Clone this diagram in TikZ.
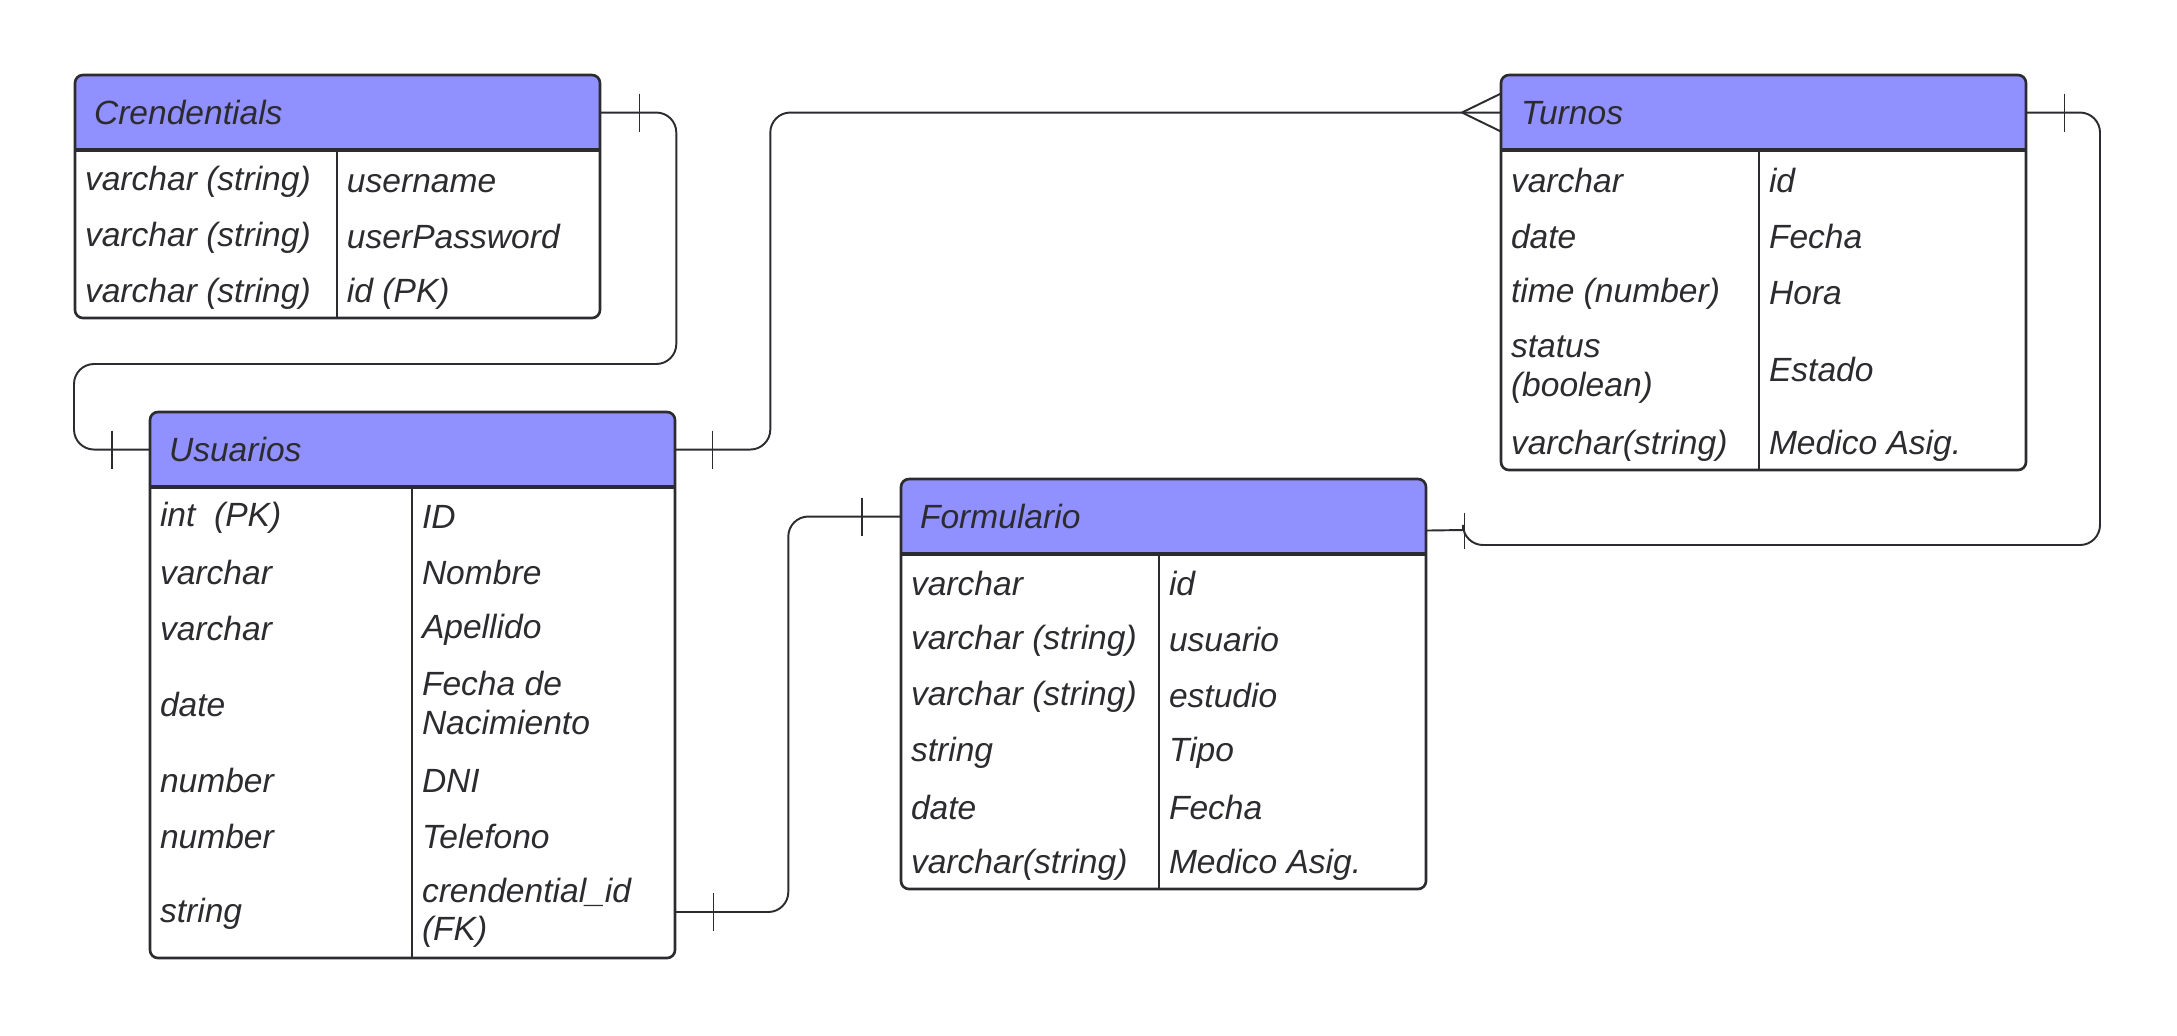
\documentclass[tikz,border=0pt]{standalone}
\usepackage{fontspec}
\setmainfont{Liberation Sans}
\usetikzlibrary{positioning,calc}
\definecolor{myviolet}{RGB}{145,144,255}
\definecolor{mygray}{RGB}{44,44,48}
\newcommand\cstrut{\rule[-0.1em]{0pt}{0.916em}}

\begin{document}
\begin{tikzpicture}[x=0.01cm,y=-0.01cm,
  every node/.style={inner sep=0pt,outer sep=0pt,text=mygray,font=\itshape\fontsize{9.55}{10.9}\selectfont},
  hdr/.style={fill=myviolet,rounded corners=0.08cm,anchor=north west,minimum width=5.25cm,minimum height=0.75cm},
  ttl/.style={anchor=west,execute at begin node=\cstrut},
  cell/.style={anchor=west,align=left,yshift=-0.025cm,execute at begin node=\cstrut,execute at end node=\cstrut},
  frame/.style={draw=mygray,line width=0.75pt,rounded corners=0.08cm},
  hline/.style={draw=mygray,line width=0.9pt},
  vline/.style={draw=mygray,line width=0.5pt},
  conn/.style={draw=mygray,line width=0.55pt,rounded corners=0.2cm},
  tick/.style={draw=mygray,line width=0.35pt}]
\useasboundingbox (0,0) rectangle (2177,1035);

% Crendentials
\node[hdr] (credh) at (75,75) {};
\fill[myviolet] (credh.west) rectangle (credh.south east);
\node[ttl] (credt) at ([xshift=0.19cm]credh.west) {Crendentials};
\foreach \y/\a/\b [count=\i] in {178/varchar (string)/username,234/varchar (string)/userPassword,290/varchar (string)/id (PK)}{
  \node[cell] (credL\i) at (85,\y) {\a};
  \node[cell] (credR\i) at (347,\y) {\b};
}
\draw[frame] (credh.north west) rectangle (600,318);
\draw[hline] (credh.south west) -- (credh.south east);
\draw[vline] (337,150) -- (337,318);

% Turnos
\node[hdr] (turnosh) at (1501,75) {};
\fill[myviolet] (turnosh.west) rectangle (turnosh.south east);
\node[ttl] (turnost) at ([xshift=0.2cm]turnosh.west) {Turnos};
\foreach \y/\a/\b [count=\i] in {178/varchar/id,234/date/Fecha,290/time (number)/Hora,367/{status\\(boolean)}/Estado,442/varchar(string)/Medico Asig.}{
  \node[cell] (turnosL\i) at (1511,\y) {\a};
  \node[cell] (turnosR\i) at (1769,\y) {\b};
}
\draw[frame] (turnosh.north west) rectangle (2026,470);
\draw[hline] (turnosh.south west) -- (turnosh.south east);
\draw[vline] (1759,150) -- (1759,470);

% Usuarios
\node[hdr] (usuh) at (150,412) {};
\fill[myviolet] (usuh.west) rectangle (usuh.south east);
\node[ttl] (usut) at ([xshift=0.19cm]usuh.west) {Usuarios};
\foreach \y/\a/\b [count=\i] in {514/int\ \ (PK)/ID,570/varchar/Nombre,626/varchar/Apellido,702/date/{Fecha de\\Nacimiento},778/number/DNI,834/number/Telefono,910/string/{crendential\_id\\(FK)}}{
  \node[cell] (usuL\i) at (160,\y) {\a};
  \node[cell] (usuR\i) at (422,\y) {\b};
}
\draw[frame] (usuh.north west) rectangle (675,958);
\draw[hline] (usuh.south west) -- (usuh.south east);
\draw[vline] (412,487) -- (412,958);

% Formulario
\node[hdr] (formh) at (901,479) {};
\fill[myviolet] (formh.west) rectangle (formh.south east);
\node[ttl] (formt) at ([xshift=0.19cm]formh.west) {Formulario};
\foreach \y/\a/\b [count=\i] in {581/varchar/id,637/varchar (string)/usuario,693/varchar (string)/estudio,749/string/Tipo,805/date/Fecha,861/varchar(string)/Medico Asig.}{
  \node[cell] (formL\i) at (911,\y) {\a};
  \node[cell] (formR\i) at (1169,\y) {\b};
}
\draw[frame] (formh.north west) rectangle (1426,889);
\draw[hline] (formh.south west) -- (formh.south east);
\draw[vline] (1159,553) -- (1159,889);

% connectors
\coordinate (fkout) at (usuh.east |- 0,912);
\coordinate (formin) at ([yshift=-0.14cm]formh.east);
\draw[conn] (credh.east) -- ++(76,0) |- (74,364) |- (usuh.west);
\draw[conn] (usuh.east) -- ++(95,0) |- (turnosh.west);
\draw[conn] (fkout) -- ++(113,0) |- (formh.west);
\draw[conn] (turnosh.east) -| (2100,545) -- (1463,545) [sharp corners] -- (1463,530) -- (formin);
\draw[conn,sharp corners] ([xshift=-0.39cm]turnosh.west) -- ([yshift=0.19cm]turnosh.west)
  ([xshift=-0.39cm]turnosh.west) -- ([yshift=-0.19cm]turnosh.west);
\draw[tick] ([xshift=0.39cm]credh.east) ++(0,-19) -- ++(0,38);
\draw[tick] ([xshift=-0.38cm]usuh.west) ++(0,-19) -- ++(0,38);
\draw[tick] ([xshift=0.37cm]usuh.east) ++(0,-19) -- ++(0,38);
\draw[tick] ([xshift=0.38cm]fkout) ++(0,-19) -- ++(0,38);
\draw[tick] ([xshift=-0.39cm]formh.west) ++(0,-19) -- ++(0,38);
\draw[tick] ([xshift=0.38cm]turnosh.east) ++(0,-19) -- ++(0,38);
\draw[tick] ([xshift=0.38cm]formin) ++(0,-18) -- ++(0,36);
\end{tikzpicture}
\end{document}
